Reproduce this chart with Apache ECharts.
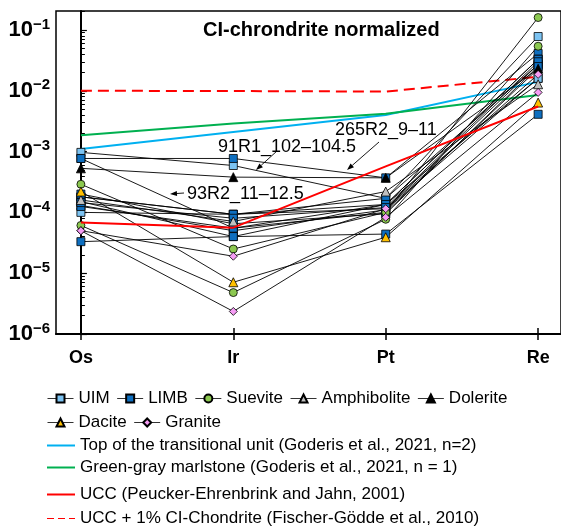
<!DOCTYPE html>
<html>
<head>
<meta charset="utf-8">
<script src="https://cdn.jsdelivr.net/npm/echarts@6/dist/echarts.min.js"></script>
<style>
html,body{margin:0;padding:0;background:#fff;}
#chart{width:561px;height:530px;}
</style>
</head>
<body>
<div id="chart"></div>
<script>
// ---- data (CI-chondrite normalized) ----
const elements = ['Os', 'Ir', 'Pt', 'Re'];
const yTickValues = [1e-6, 1e-5, 1e-4, 1e-3, 1e-2, 1e-1];

const uim1 = [9.7e-4, 5.9e-4, 1.7e-4, 7.8e-2];
const uim2 = [1.0e-4, 9.3e-5, 1.35e-4, 1.6e-2];
const uim3 = [1.3e-4, 5.0e-5, 1.1e-4, 1.6e-2];

const limb1 = [7.7e-4, 7.7e-4, 3.7e-4, 4.1e-2];   // 265R2_9–11
const limb2 = [7.7e-4, 5.5e-5, 1.35e-4, 3.3e-2];  // 93R2_11–12.5
const limb3 = [1.8e-4, 9.3e-5, 1.7e-4, 2.7e-2];
const limb4 = [1.5e-4, 4.0e-5, 4.4e-5, 4.1e-3];
const limb5 = [1.25e-4, 5.5e-5, 1.0e-4, 2.3e-2];
const limb6 = [3.3e-5, 4.0e-5, 1.35e-4, 3.3e-2];
const limb7 = [1.8e-4, 9.3e-5, 1.15e-4, 2.7e-2];
const limb8 = [1.45e-4, 8.0e-5, 1.2e-4, 3.0e-2];
const limb9 = [2.0e-4, 6.5e-5, 9.5e-5, 2.5e-2];

const suev1 = [2.9e-4, 2.5e-5, 1.0e-4, 1.6e-1];
const suev2 = [6.1e-5, 4.8e-6, 7.7e-5, 5.4e-2];
const amph1 = [1.6e-4, 7.1e-5, 2.2e-4, 1.28e-2];
const dole1 = [5.3e-4, 3.8e-4, 3.7e-4, 2.3e-2];
const daci1 = [2.2e-4, 7.1e-6, 3.9e-5, 6.4e-3];
const gran1 = [5.0e-5, 1.9e-5, 1.15e-4, 1.86e-2];
const gran2 = [5.0e-5, 2.35e-6, 8.3e-5, 9.4e-3];

const topTransitional = [1.1e-3, 2.1e-3, 4.0e-3, 1.4e-2];
const greenMarlstone  = [1.85e-3, 2.9e-3, 4.2e-3, 8.5e-3];
const ucc             = [6.8e-5, 5.6e-5, 5.7e-4, 5.5e-3];
const uccChondrite    = [1.0e-2, 9.9e-3, 9.7e-3, 1.7e-2];

// ---- styling ----
const FONT = '"Liberation Sans", Arial, sans-serif';
const types = {
  'UIM':         {symbol: 'rect',     size: 8, color: '#7CC3F2'},
  'LIMB':        {symbol: 'rect',     size: 8, color: '#0E6FC0'},
  'Suevite':     {symbol: 'circle',   size: 8, color: '#8CC850'},
  'Amphibolite': {symbol: 'triangle', size: 9, color: '#C0C0C0'},
  'Dolerite':    {symbol: 'triangle', size: 9, color: '#000000'},
  'Dacite':      {symbol: 'triangle', size: 9, color: '#FFC000'},
  'Granite':     {symbol: 'diamond',  size: 8, color: '#F59CF4'}
};
const samples = [
  ['UIM', uim1], ['UIM', uim2], ['UIM', uim3],
  ['LIMB', limb1], ['LIMB', limb2], ['LIMB', limb3], ['LIMB', limb4], ['LIMB', limb5],
  ['LIMB', limb6], ['LIMB', limb7], ['LIMB', limb8], ['LIMB', limb9],
  ['Suevite', suev1], ['Suevite', suev2],
  ['Amphibolite', amph1], ['Dolerite', dole1], ['Dacite', daci1],
  ['Granite', gran1], ['Granite', gran2]
];
const refLines = [
  {name: 'Top of the transitional unit (Goderis et al., 2021, n=2)', data: topTransitional, color: '#00B0F0', type: 'solid'},
  {name: 'Green-gray marlstone (Goderis et al., 2021, n = 1)', data: greenMarlstone, color: '#00B050', type: 'solid'},
  {name: 'UCC (Peucker-Ehrenbrink and Jahn, 2001)', data: ucc, color: '#FF0000', type: 'solid'},
  {name: 'UCC + 1% CI-Chondrite (Fischer-Gödde et al., 2010)', data: uccChondrite, color: '#FF0000', type: [11, 6]}
];

const toPts = arr => arr.map((v, i) => [i, v]);

const series = [];
function refSeries(r, z) {
  return {
    name: r.name, type: 'line', data: toPts(r.data), symbol: 'none',
    lineStyle: {color: r.color, width: 2, type: r.type}, itemStyle: {color: r.color}, z: z
  };
}
series.push(refSeries(refLines[0], 1), refSeries(refLines[1], 1), refSeries(refLines[3], 1));
samples.forEach(([t, vals]) => {
  const s = types[t];
  series.push({
    name: t, type: 'line', data: toPts(vals),
    symbol: s.symbol, symbolSize: s.size, showSymbol: true,
    lineStyle: {color: '#000', width: 0.9},
    itemStyle: {color: s.color, borderColor: '#000', borderWidth: 0.8},
    z: 2
  });
});
series.push(refSeries(refLines[2], 3));

// minor log ticks
const yMax = 0.205;
const minorTicks = [];
for (let d = -6; d <= -1; d++) {
  for (let k = 2; k <= 9; k++) {
    const v = k * Math.pow(10, d);
    if (v <= yMax) minorTicks.push(v);
  }
}

const xMin = -0.1634, xMax = 3.150;

// annotation helpers (arrows)
function arrow(x1, y1, x2, y2) {
  const ang = Math.atan2(y2 - y1, x2 - x1);
  const L = 7, W = 2.6;
  const bx = x2 - L * Math.cos(ang), by = y2 - L * Math.sin(ang);
  const px = -Math.sin(ang) * W, py = Math.cos(ang) * W;
  return [
    {type: 'line', shape: {x1: x1, y1: y1, x2: bx, y2: by}, style: {stroke: '#000', lineWidth: 0.9}, z: 10},
    {type: 'polygon', shape: {points: [[x2, y2], [bx + px, by + py], [bx - px, by - py]]}, style: {fill: '#000'}, z: 10}
  ];
}
function label(text, x, y) {
  return {type: 'text', x: x, y: y, style: {text: text, font: '18px ' + FONT, fill: '#000', verticalAlign: 'middle', align: 'left'}, z: 10};
}

const legendText = {fontFamily: FONT, fontSize: 17, color: '#000'};
function refLegend(r, top, icon) {
  return {
    data: [{name: r.name, icon: icon}], left: 47, top: top, padding: 0,
    itemWidth: 28, itemHeight: 2, selectedMode: false, textStyle: legendText
  };
}

const option = {
  animation: false,
  backgroundColor: '#fff',
  textStyle: {fontFamily: FONT},
  title: {
    text: 'CI-chrondrite normalized', left: 198, top: 15,
    textStyle: {fontFamily: FONT, fontSize: 20, fontWeight: 'bold', color: '#000'}
  },
  grid: {left: 56, right: -2, top: 11, bottom: 196, show: true, borderColor: '#000', borderWidth: 1.5, backgroundColor: 'transparent'},
  legend: [
    {
      data: ['UIM', 'LIMB', 'Suevite', 'Amphibolite', 'Dolerite', 'Dacite', 'Granite'],
      left: 47, top: 390, width: 480, padding: 0, itemGap: 7,
      itemWidth: 26, itemHeight: 10, selectedMode: false,
      lineStyle: {width: 1, color: '#333'},
      textStyle: legendText
    },
    refLegend(refLines[0], 437, 'rect'),
    refLegend(refLines[1], 459, 'rect'),
    refLegend(refLines[2], 486, 'rect'),
    refLegend(refLines[3], 510, 'path://M0,0h7v1h-7zM11,0h7v1h-7zM22,0h6v1h-6z')
  ],
  xAxis: [
    {
      type: 'value', min: xMin, max: xMax,
      splitLine: {show: false},
      axisLine: {show: true, lineStyle: {color: '#000', width: 2}},
      axisTick: {show: true, inside: false, length: 6, customValues: [0, 1, 2, 3], lineStyle: {color: '#000', width: 1.5}},
      axisLabel: {
        customValues: [0, 1, 2, 3], margin: 15,
        formatter: v => elements[Math.round(v)],
        fontFamily: FONT, fontSize: 18, fontWeight: 'bold', color: '#000'
      }
    },
    {
      type: 'value', min: xMin, max: xMax, position: 'bottom',
      splitLine: {show: false},
      axisLine: {show: false},
      axisTick: {show: true, inside: true, length: 6, customValues: [0, 1, 2, 3], lineStyle: {color: '#000', width: 1.5}},
      axisLabel: {show: false}
    }
  ],
  yAxis: [
    {
      type: 'log', logBase: 10, min: 1e-6, max: yMax,
      splitLine: {show: false},
      axisLine: {show: true, lineStyle: {color: '#000', width: 2}},
      axisTick: {show: true, inside: true, length: 6, customValues: yTickValues, lineStyle: {color: '#000', width: 1.2}},
      axisLabel: {
        customValues: yTickValues, margin: 6,
        formatter: v => {
          const e = Math.round(Math.log10(v));
          return '{b|10}{s|\u2212' + Math.abs(e) + '}';
        },
        rich: {
          b: {fontFamily: FONT, fontSize: 22, fontWeight: 'bold', color: '#000', lineHeight: 26},
          s: {fontFamily: FONT, fontSize: 15, fontWeight: 'bold', color: '#000', lineHeight: 20, verticalAlign: 'top'}
        }
      }
    },
    {
      type: 'log', logBase: 10, min: 1e-6, max: yMax, position: 'left',
      splitLine: {show: false},
      axisLine: {show: false},
      axisTick: {show: true, inside: true, length: 4, customValues: minorTicks, lineStyle: {color: '#000', width: 1}},
      axisLabel: {show: false}
    }
  ],
  series: series,
  graphic: [
    label('265R2_9\u201311', 335, 130),
    label('91R1_102\u2013104.5', 218, 147),
    label('93R2_11\u201312.5', 187, 194)
  ].concat(arrow(379, 142, 347, 170), arrow(277, 151, 256, 170), arrow(184, 193, 170, 194))
};

const chart = echarts.init(document.getElementById('chart'), null, {renderer: 'canvas'});
chart.setOption(option);
</script>
</body>
</html>
